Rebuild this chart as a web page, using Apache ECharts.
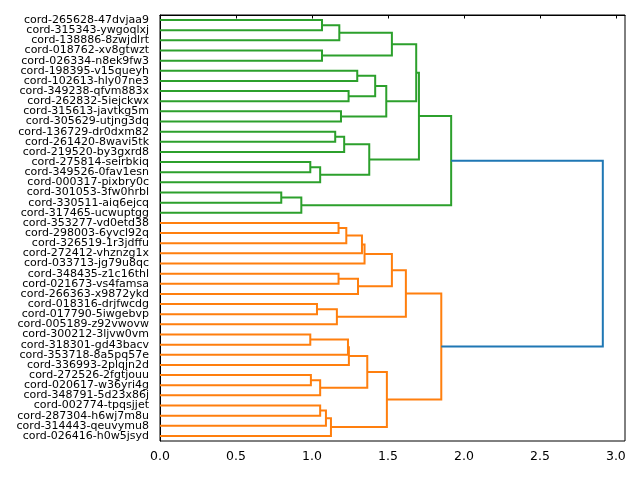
<!DOCTYPE html>
<html>
<head>
<meta charset="UTF-8">
<title>dendrogram</title>
<style type="text/css">
  html, body, #chart { margin: 0; padding: 0; width: 640px; height: 480px; background: #fff; }
</style>
</head>
<body>
<div id="chart"></div>
<script src="https://cdn.jsdelivr.net/npm/echarts@6/dist/echarts.min.js"></script>
<script>
// leaf labels, top to bottom
const leaves = [
  'cord-265628-47dvjaa9', 'cord-315343-ywgoqlxj', 'cord-138886-8zwjdlrt',
  'cord-018762-xv8gtwzt', 'cord-026334-n8ek9fw3', 'cord-198395-v15queyh',
  'cord-102613-hly07ne3', 'cord-349238-qfvm883x', 'cord-262832-5iejckwx',
  'cord-315613-javtkg5m', 'cord-305629-utjng3dq', 'cord-136729-dr0dxm82',
  'cord-261420-8wavi5tk', 'cord-219520-by3gxrd8', 'cord-275814-seirbkiq',
  'cord-349526-0fav1esn', 'cord-000317-pixbry0c', 'cord-301053-3fw0hrbl',
  'cord-330511-aiq6ejcq', 'cord-317465-ucwuptgg', 'cord-353277-vd0etd38',
  'cord-298003-6yvcl92q', 'cord-326519-1r3jdffu', 'cord-272412-vhznzg1x',
  'cord-033713-jg79u8qc', 'cord-348435-z1c16thl', 'cord-021673-vs4famsa',
  'cord-266363-x9872ykd', 'cord-018316-drjfwcdg', 'cord-017790-5iwgebvp',
  'cord-005189-z92vwovw', 'cord-300212-3ljvw0vm', 'cord-318301-gd43bacv',
  'cord-353718-8a5pq57e', 'cord-336993-2plqjn2d', 'cord-272526-2fgtjouu',
  'cord-020617-w36yri4g', 'cord-348791-5d23x86j', 'cord-002774-tpqsjjet',
  'cord-287304-h6wj7m8u', 'cord-314443-qeuvymu8', 'cord-026416-h0w5jsyd'
];

// merges, linkage style: ids < 42 are leaves, id 42 + k is merge k
const mergeLeft  = [0, 42, 3, 43, 5, 7, 46, 9, 48, 45, 11, 52, 14, 54, 53, 51, 17, 58, 57,
                    20, 61, 62, 63, 25, 65, 64, 28, 68, 67, 31, 71, 72, 35, 74, 73, 38, 77, 78, 76, 70, 60];
const mergeRight = [1, 2, 4, 44, 6, 8, 47, 10, 49, 50, 12, 13, 15, 16, 55, 56, 18, 19, 59,
                    21, 22, 23, 24, 26, 27, 66, 29, 30, 69, 32, 33, 34, 36, 37, 75, 39, 40, 41, 79, 80, 81];
const mergeHeight = [1.066, 1.180, 1.066, 1.526, 1.298, 1.241, 1.416, 1.191, 1.489, 1.686,
                     1.153, 1.212, 0.989, 1.054, 1.377, 1.704, 0.798, 0.930, 1.916,
                     1.175, 1.226, 1.329, 1.346, 1.175, 1.303, 1.526, 1.033, 1.164, 1.618,
                     0.989, 1.237, 1.243, 0.993, 1.054, 1.364, 1.054, 1.092, 1.125, 1.493,
                     1.851, 2.914];
// colour group of each merge: 0 green, 1 orange, 2 above threshold
const mergeGroup = [0, 0, 0, 0, 0, 0, 0, 0, 0, 0, 0, 0, 0, 0, 0, 0, 0, 0, 0,
                    1, 1, 1, 1, 1, 1, 1, 1, 1, 1, 1, 1, 1, 1, 1, 1, 1, 1, 1, 1, 1, 2];
const groupColors = ['#2ca02c', '#ff7f0e', '#1f77b4'];
const xTicks = [0, 0.5, 1, 1.5, 2, 2.5, 3];

const n = leaves.length;
const pos = [], height = [];
for (let i = 0; i < n; i++) { pos[i] = 5 + 10 * i; height[i] = 0; }
const links = [];
mergeHeight.forEach(function (h, k) {
  const a = mergeLeft[k], b = mergeRight[k];
  pos[n + k] = (pos[a] + pos[b]) / 2;
  height[n + k] = h;
  links.push([height[a], pos[a], h, pos[b], height[b], mergeGroup[k]]);
});

const chart = echarts.init(document.getElementById('chart'));
chart.setOption({
  backgroundColor: '#fff',
  animation: false,
  grid: { left: 160, right: 15, top: 15, bottom: 39, show: true, borderColor: '#000', borderWidth: 1 },
  xAxis: {
    type: 'value', min: 0, max: 3.06,
    axisLine: { show: true, lineStyle: { color: '#000', width: 1 } },
    axisTick: { show: true, length: 3.5, customValues: xTicks, lineStyle: { color: '#000' } },
    axisLabel: {
      customValues: xTicks, color: '#000', fontSize: 12.5, fontFamily: 'DejaVu Sans', margin: 9,
      formatter: function (v) { return v.toFixed(1); }
    },
    splitLine: { show: false }
  },
  yAxis: [{
    type: 'category', data: leaves, inverse: true,
    axisLine: { show: true, lineStyle: { color: '#000', width: 1 } },
    axisTick: { show: false },
    axisLabel: { color: '#000', fontSize: 11, fontFamily: 'DejaVu Sans', margin: 11, interval: 0 },
    splitLine: { show: false }
  }, {
    type: 'value', min: 0, max: 10 * n, inverse: true, show: false
  }],
  series: [{
    type: 'custom',
    coordinateSystem: 'cartesian2d',
    xAxisIndex: 0, yAxisIndex: 1,
    encode: { x: [0, 2, 4], y: [1, 3] },
    data: links,
    renderItem: function (params, api) {
      const pts = [
        api.coord([api.value(0), api.value(1)]),
        api.coord([api.value(2), api.value(1)]),
        api.coord([api.value(2), api.value(3)]),
        api.coord([api.value(4), api.value(3)])
      ];
      return {
        type: 'polyline',
        shape: { points: pts },
        style: { stroke: groupColors[api.value(5)], lineWidth: 2, fill: null }
      };
    }
  }]
});
</script>
</body>
</html>
